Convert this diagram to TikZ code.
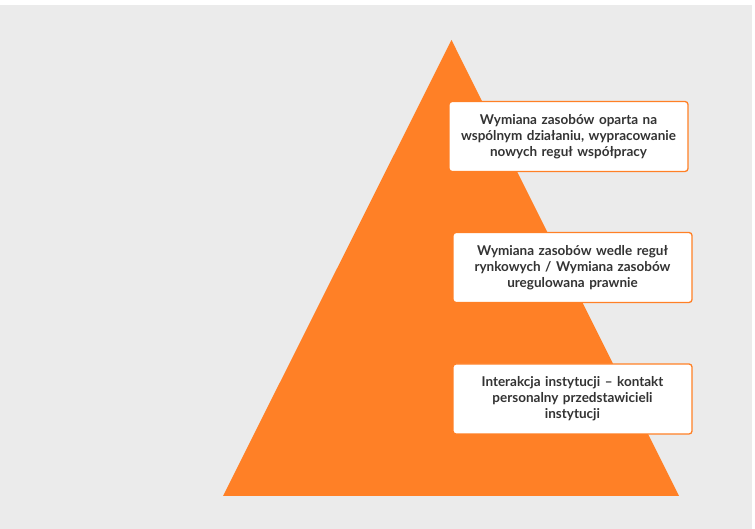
\documentclass[tikz,border=0pt]{standalone}
\usepackage{fontspec}
\setmainfont{Lato}
\definecolor{bggray}{HTML}{EBEBEB}
\definecolor{pyrorange}{HTML}{FF8026}
\definecolor{txtgray}{HTML}{333333}
\begin{document}
\begin{tikzpicture}[x=1pt,y=1pt,
  levelbox/.style={draw=pyrorange,line width=1.3pt,fill=white,rounded corners=3pt,
    minimum height=70pt,text width=230pt,align=center,inner sep=0pt,
    font=\fontsize{13.5}{16}\selectfont\bfseries,text=txtgray}]
\useasboundingbox (0,0) rectangle (755,529);
\fill[white] (0,0) rectangle (755,529);
\fill[bggray] (0,0) rectangle (752,524);
\fill[pyrorange] (223,33) coordinate (bl) -- (451.5,489) coordinate (apex) -- (679,33) coordinate (br) -- cycle;
\node[levelbox,minimum width=239pt] (top) at (568.5,392.5) {Wymiana zasobów oparta na\\wspólnym działaniu, wypracowanie\\nowych reguł współpracy};
\node[levelbox,minimum width=239pt] (mid) at (572.5,261.5) {Wymiana zasobów wedle reguł\\rynkowych / Wymiana zasobów\\uregulowana prawnie};
\node[levelbox,minimum width=239pt] (bot) at (572.5,130) {Interakcja instytucji – kontakt\\personalny przedstawicieli\\instytucji};
\end{tikzpicture}
\end{document}
